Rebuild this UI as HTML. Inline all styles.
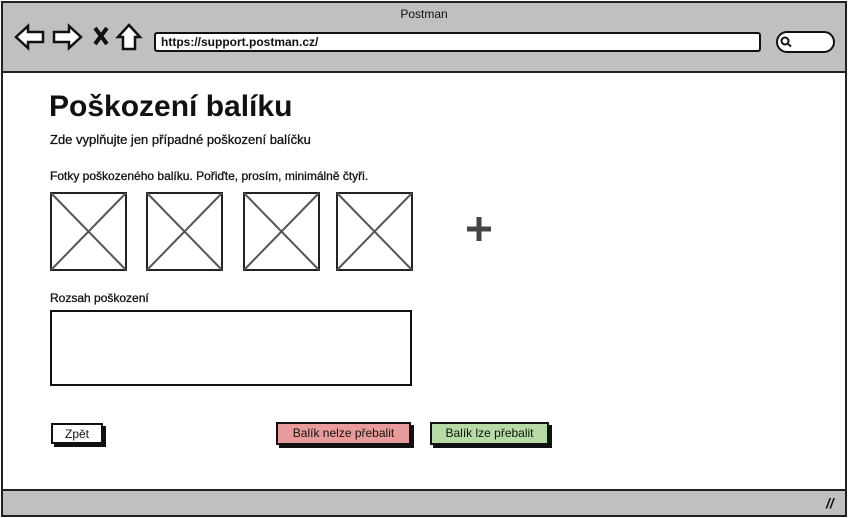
<!DOCTYPE html>
<html><head><meta charset="utf-8"><style>
body{margin:0;width:848px;height:518px;background:#fff;font-family:"Liberation Sans",sans-serif;position:relative;overflow:hidden}
div,span{position:absolute;box-sizing:border-box}
.btn{border:2px solid #111;box-shadow:3px 3px 0 #111;font-size:12px;text-align:center;line-height:18px;color:#111}
</style></head><body>
<div style="left:1px;top:1px;width:846px;height:516px;border:2px solid #222;background:#fff"></div>
<div style="left:1px;top:1px;width:846px;height:72px;border:2px solid #222;background:#c0c0c0"></div>
<div style="left:0;width:848px;top:7px;text-align:center;font-size:12px;color:#111">Postman</div>
<svg style="position:absolute;left:14px;top:23px" width="130" height="30">
<path d="M2 14 L14 3 L14 9 L29 9 L29 19 L14 19 L14 25 Z" fill="#fff" stroke="#111" stroke-width="2.5"/>
<path d="M67 14 L55 3 L55 9 L40 9 L40 19 L55 19 L55 25 Z" fill="#fff" stroke="#111" stroke-width="2.5"/>
<path d="M81 5 L93 21 M93 5 L81 21" stroke="#111" stroke-width="4"/>
<path d="M104 14 L115 2 L126 14 L121 14 L121 26 L109 26 L109 14 Z" fill="#fff" stroke="#111" stroke-width="2.5"/>
</svg>
<div style="left:154px;top:32px;width:607px;height:20px;border:2px solid #111;border-radius:3px;background:#fff;font-size:12px;padding-left:5px;line-height:16px;font-weight:bold;color:#111">https://support.postman.cz/</div>
<div style="left:776px;top:31px;width:59px;height:22px;border:2px solid #111;border-radius:11px;background:#fff"></div>
<svg style="position:absolute;left:780px;top:36px" width="14" height="12"><circle cx="5" cy="5" r="3.5" fill="none" stroke="#111" stroke-width="2"/><path d="M7.5 7.5 L11 10.5" stroke="#111" stroke-width="2"/></svg>
<div style="left:49px;top:90px;font-size:30px;font-weight:bold;color:#111">Poškození balíku</div>
<div style="left:50px;top:132px;font-size:13px;color:#111;-webkit-text-stroke:0.3px #111">Zde vyplňujte jen případné poškození balíčku</div>
<div style="left:50px;top:169px;font-size:12px;color:#111;-webkit-text-stroke:0.3px #111">Fotky poškozeného balíku. Pořiďte, prosím, minimálně čtyři.</div>
<svg style="position:absolute;left:0;top:0" width="848" height="518">
<g stroke="#555" stroke-width="2" fill="none">
<g><rect x="51" y="193" width="75" height="77" stroke="#222"/><path d="M51 193 L126 270 M126 193 L51 270"/></g>
<g><rect x="147" y="193" width="75" height="77" stroke="#222"/><path d="M147 193 L222 270 M222 193 L147 270"/></g>
<g><rect x="244" y="193" width="75" height="77" stroke="#222"/><path d="M244 193 L319 270 M319 193 L244 270"/></g>
<g><rect x="337" y="193" width="75" height="77" stroke="#222"/><path d="M337 193 L412 270 M412 193 L337 270"/></g>
</g>
<path d="M479 217 L479 241 M467 229 L491 229" stroke="#444" stroke-width="5"/>
</svg>
<div style="left:50px;top:291px;font-size:12px;color:#111;-webkit-text-stroke:0.3px #111">Rozsah poškození</div>
<div style="left:50px;top:310px;width:362px;height:76px;border:2px solid #111;background:#fff"></div>
<div class="btn" style="left:51px;top:423px;width:52px;height:21px;background:#fff">Zpět</div>
<div class="btn" style="left:276px;top:422px;width:135px;height:23px;background:#e99a9a;line-height:19px">Balík nelze přebalit</div>
<div class="btn" style="left:430px;top:422px;width:119px;height:23px;background:#b6dba4;line-height:19px">Balík lze přebalit</div>
<div style="left:1px;top:489px;width:846px;height:28px;border:2px solid #222;background:#c0c0c0"></div>
<div style="left:826px;top:495px;font-size:14px;font-weight:bold;font-style:italic;color:#111">//</div>
</body></html>
